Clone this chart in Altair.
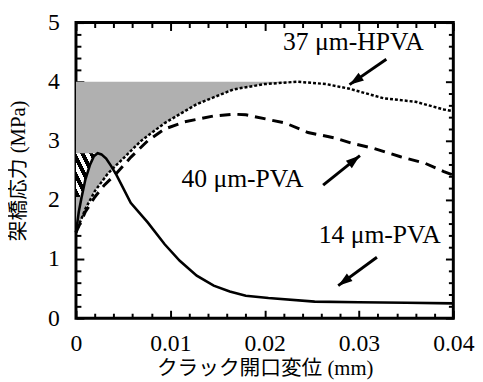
import math
import altair as alt
import pandas as pd

# ---- data ----
x_14 = [0, 0.0003, 0.0006, 0.001, 0.0015, 0.0019, 0.0023, 0.0027, 0.0032, 0.0037, 0.0043, 0.0058,
        0.0076, 0.0094, 0.011, 0.0128, 0.0146, 0.0163, 0.018, 0.0204, 0.0253, 0.03, 0.035, 0.04]
y_14 = [1.45, 1.8, 2.05, 2.35, 2.6, 2.74, 2.79, 2.77, 2.7, 2.58, 2.42, 1.95,
        1.62, 1.25, 0.97, 0.72, 0.55, 0.45, 0.38, 0.34, 0.28, 0.27, 0.26, 0.25]

x_40 = [0, 0.001, 0.002, 0.003, 0.0043, 0.0058, 0.0076, 0.0094, 0.0115, 0.0146, 0.0167, 0.018,
        0.0222, 0.0246, 0.0274, 0.0292, 0.0316, 0.0344, 0.037, 0.039, 0.04]
y_40 = [1.45, 1.8, 2.05, 2.25, 2.45, 2.72, 3.0, 3.2, 3.32, 3.42, 3.45, 3.44,
        3.3, 3.14, 3.05, 2.96, 2.87, 2.73, 2.62, 2.48, 2.42]

x_37 = [0, 0.001, 0.002, 0.0034, 0.0048, 0.0069, 0.0094, 0.0128, 0.0167, 0.02, 0.0235,
        0.0265, 0.029, 0.0326, 0.036, 0.039, 0.04]
y_37 = [1.45, 1.85, 2.15, 2.45, 2.67, 3.0, 3.3, 3.62, 3.87, 3.96, 4.0,
        3.96, 3.88, 3.72, 3.66, 3.53, 3.5]

shade_top = 4.0
shade_end = 0.0235
hatch_low = 2.0
hatch_end = 0.0023

major_x = [0, 0.01, 0.02, 0.03, 0.04]
minor_x = [0.002, 0.004, 0.006, 0.008, 0.012, 0.014, 0.016, 0.018, 0.022, 0.024, 0.026, 0.028,
           0.032, 0.034, 0.036, 0.038]
major_y = [0, 1, 2, 3, 4, 5]
minor_y = [0.2, 0.4, 0.6, 0.8, 1.2, 1.4, 1.6, 1.8, 2.2, 2.4, 2.6, 2.8, 3.2, 3.4, 3.6, 3.8,
           4.2, 4.4, 4.6, 4.8]

label_text = ["37 μm-HPVA", "40 μm-PVA", "14 μm-PVA"]
label_x = [0.0294, 0.01765, 0.0322]
label_y = [4.67, 2.35, 1.4]
tail_x = [0.0329, 0.0262, 0.0319]
tail_y = [4.38, 2.25, 1.03]
head_x = [0.0290, 0.0301, 0.0278]
head_y = [3.95, 2.75, 0.55]

# ---- layout ----
W, H = 383, 300
X_MAX, Y_MAX = 0.04, 5
NUM_FONT = "Liberation Serif"
TITLE_FONT = "Liberation Serif, Noto Sans CJK JP"

d14 = pd.DataFrame({"x": x_14, "y": y_14})
d40 = pd.DataFrame({"x": x_40, "y": y_40})
d37 = pd.DataFrame({"x": x_37, "y": y_37})
dshade = d37[d37.x <= shade_end]
dhatch = d14[(d14.x <= hatch_end) & (d14.y >= hatch_low)]

px_x = W / X_MAX
px_y = H / Y_MAX
angles = []
for tx, ty, hx, hy in zip(tail_x, tail_y, head_x, head_y):
    dx = (hx - tx) * px_x
    dy_down = -(hy - ty) * px_y
    angles.append(math.degrees(math.atan2(dx, -dy_down)) % 360)
darrow = pd.DataFrame({"tx": tail_x, "ty": tail_y, "hx": head_x, "hy": head_y, "ang": angles})
dlabel = pd.DataFrame({"t": label_text, "x": label_x, "y": label_y})

xs = alt.Scale(domain=[0, X_MAX], nice=False, zero=False)
ys = alt.Scale(domain=[0, Y_MAX], nice=False, zero=False)


def ticks(orient, values, size):
    return alt.Axis(orient=orient, values=values, tickSize=size, offset=-size, domain=False,
                    grid=False, labels=False, title=None, tickColor="black", tickWidth=2)


ax_bottom = alt.Axis(orient="bottom", values=major_x, tickSize=8, offset=-8, domain=False,
                     grid=False, tickColor="black", tickWidth=2, format="~g", labelFlush=False,
                     labelFont=NUM_FONT, labelFontSize=24, labelColor="black", labelPadding=14,
                     title="クラック開口変位 (mm)", titleFont=TITLE_FONT, titleFontSize=21,
                     titleFontWeight="normal", titleColor="black", titlePadding=2)
ax_left = alt.Axis(orient="left", values=major_y, tickSize=8, offset=-8, domain=False,
                   grid=False, tickColor="black", tickWidth=2, format="~g", labelFlush=False,
                   labelFont=NUM_FONT, labelFontSize=24, labelColor="black", labelPadding=17,
                   title="架橋応力 (MPa)", titleFont=TITLE_FONT, titleFontSize=21,
                   titleFontWeight="normal", titleColor="black", titlePadding=19)

shade = alt.Chart(dshade).mark_area(color="#b0b0b0", opacity=1).encode(
    x=alt.X("x:Q", scale=xs, axis=ax_bottom),
    y=alt.Y("y:Q", scale=ys, axis=ax_left),
    y2=alt.datum(shade_top),
)

stops = []
n = 5
for i in range(n):
    a = i / n
    b = (i + 0.5) / n
    c = (i + 1) / n
    stops += [alt.GradientStop(color="black", offset=a), alt.GradientStop(color="black", offset=b),
              alt.GradientStop(color="white", offset=b), alt.GradientStop(color="white", offset=c)]
hatch = alt.Chart(dhatch).mark_area(
    orient="horizontal",
    color=alt.Gradient(gradient="linear", stops=stops, x1=0, y1=1, x2=1, y2=0),
).encode(
    y=alt.Y("y:Q", scale=ys, axis=None),
    x=alt.X("x:Q", scale=xs, axis=None),
    x2=alt.datum(0),
)

line40 = alt.Chart(d40).mark_line(color="black", strokeWidth=3, strokeDash=[11, 7]).encode(
    x=alt.X("x:Q", scale=xs, axis=ticks("bottom", minor_x, 5)),
    y=alt.Y("y:Q", scale=ys, axis=ticks("left", minor_y, 5)),
)
line37 = alt.Chart(d37).mark_line(color="black", strokeWidth=2.5, strokeDash=[3, 2]).encode(
    x=alt.X("x:Q", scale=xs, axis=ticks("top", major_x, 8)),
    y=alt.Y("y:Q", scale=ys, axis=ticks("right", major_y, 8)),
)
line14 = alt.Chart(d14).mark_line(color="black", strokeWidth=2.6).encode(
    x=alt.X("x:Q", scale=xs, axis=ticks("top", minor_x, 5)),
    y=alt.Y("y:Q", scale=ys, axis=ticks("right", minor_y, 5)),
)

shaft = alt.Chart(darrow).mark_rule(color="black", strokeWidth=3).encode(
    x=alt.X("tx:Q", scale=xs, axis=None),
    y=alt.Y("ty:Q", scale=ys, axis=None),
    x2="hx:Q",
    y2="hy:Q",
)
head = alt.Chart(darrow).mark_point(
    shape="M0,0L1.2,3.6L-1.2,3.6Z", filled=True, color="black", opacity=1, size=64,
).encode(
    x=alt.X("hx:Q", scale=xs, axis=None),
    y=alt.Y("hy:Q", scale=ys, axis=None),
    angle=alt.Angle("ang:Q", scale=None),
)
text = alt.Chart(dlabel).mark_text(
    font=NUM_FONT, fontSize=26, color="black", align="center", baseline="middle"
).encode(
    x=alt.X("x:Q", scale=xs, axis=None),
    y=alt.Y("y:Q", scale=ys, axis=None),
    text="t:N",
)

chart = alt.layer(shade, hatch, line40, line37, line14, shaft, head, text).resolve_axis(
    x="independent", y="independent"
).properties(
    width=W, height=H,
    background="white",
    autosize=alt.AutoSizeParams(type="none"),
    padding={"left": 69, "top": 12, "right": 22, "bottom": 62},
).configure_view(stroke="black", strokeWidth=3)

chart.save("out.html", embed_options={"renderer": "svg", "actions": False})
